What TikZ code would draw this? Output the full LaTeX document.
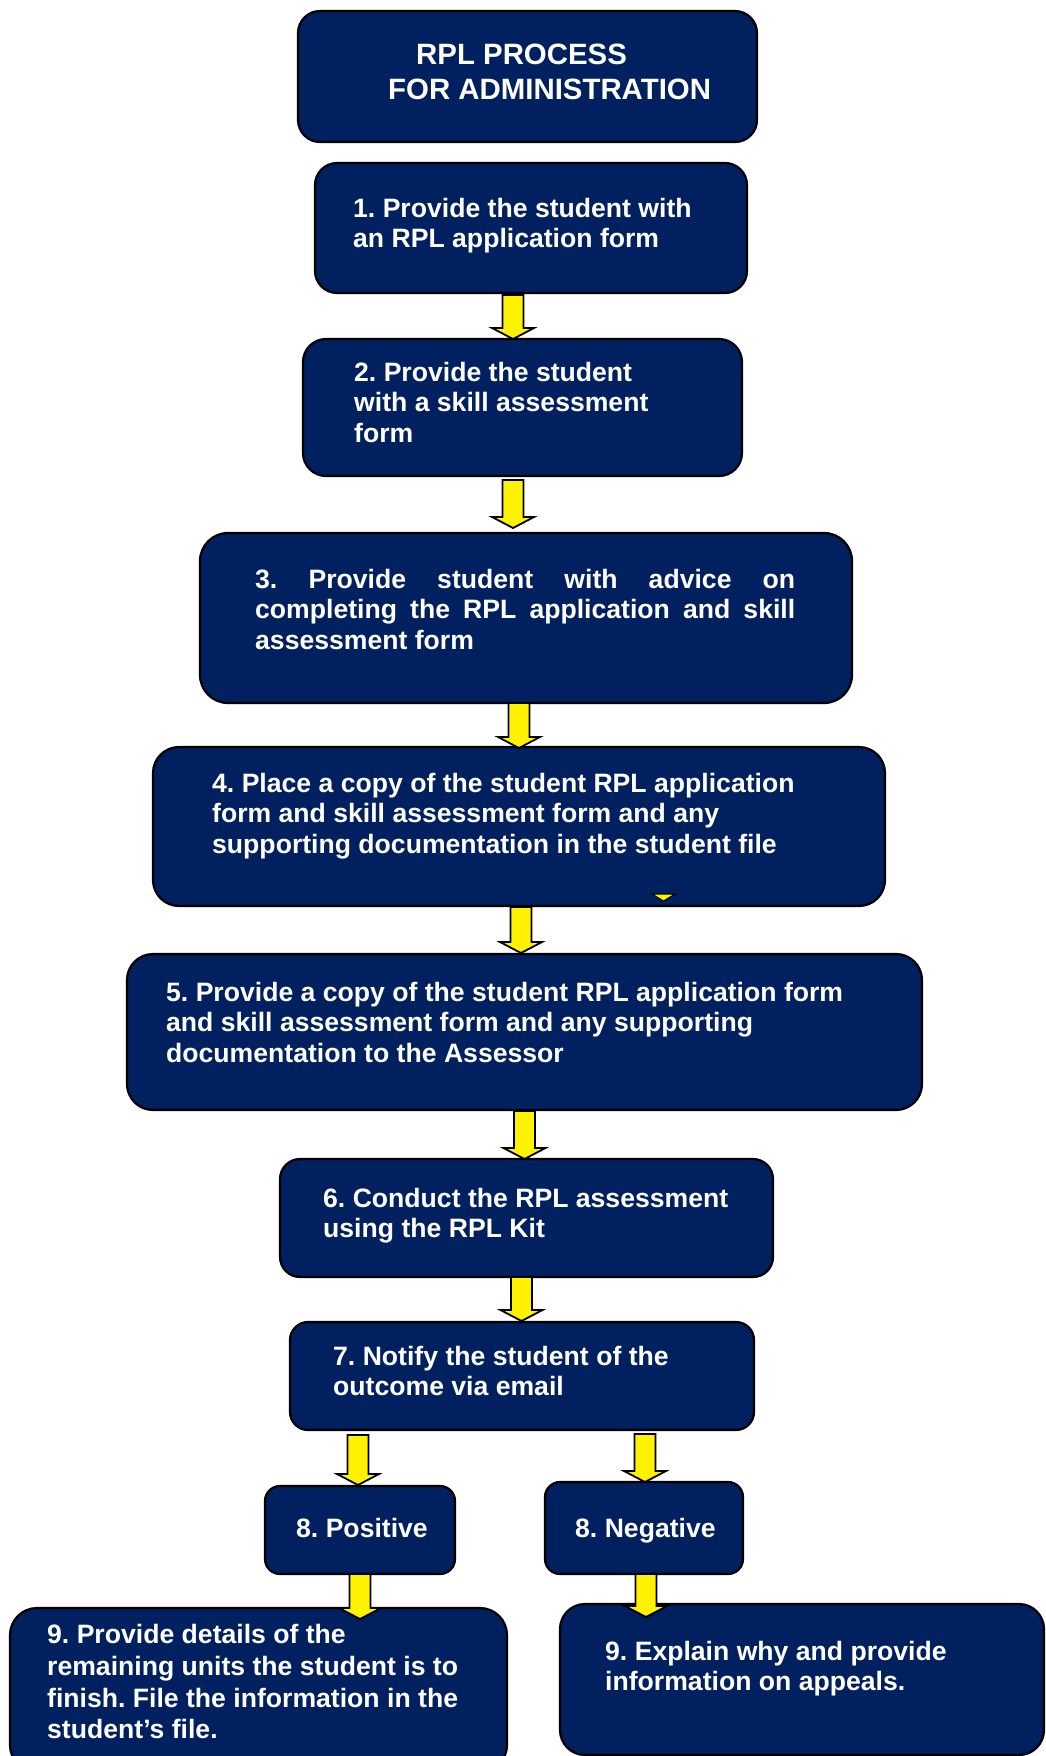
\documentclass[tikz,border=0pt]{standalone}
\usepackage{fontspec}
\setmainfont{Liberation Sans}
\usepackage{tikz}
\usetikzlibrary{calc}

\definecolor{boxnavy}{HTML}{002060}
\frenchspacing

\begin{document}
\begin{tikzpicture}[x=1pt,y=-1pt,
  stepbox/.style={shape=rectangle,draw=black,line width=2.2pt,fill=boxnavy,
    rounded corners=20pt,inner sep=0pt,outer sep=0pt},
  steptext/.style={anchor=north west,inner sep=0pt,align=left,text=white,
    font=\bfseries\fontsize{26.6}{30.5}\selectfont},
  yarrow/.style={draw=black,fill=yellow,line width=1.8pt,line join=miter,
    to path={($(\tikztostart)+(-10.5,0)$) -- ($(\tikztotarget)+(-10.5,-11)$)
      -- ($(\tikztotarget)+(-21,-11)$) -- (\tikztotarget)
      -- ($(\tikztotarget)+(21,-11)$) -- ($(\tikztotarget)+(10.5,-11)$)
      -- ($(\tikztostart)+(10.5,0)$) -- cycle}}]
\useasboundingbox (0,0) rectangle (1046,1756);

% boxes
\node[stepbox,minimum width=459pt,minimum height=131pt,rounded corners=22pt] (b0) at (527.5,76.5) {};
\node[stepbox,minimum width=432pt,minimum height=130pt,rounded corners=22pt] (b1) at (531,228) {};
\node[stepbox,minimum width=439pt,minimum height=137pt,rounded corners=23pt] (b2) at (522.5,407.5) {};
\node[stepbox,minimum width=652pt,minimum height=170pt,rounded corners=28pt] (b3) at (526,618) {};
\node[stepbox,minimum width=732pt,minimum height=159pt,rounded corners=26pt] (b4) at (519,826.5) {};
\node[stepbox,minimum width=795pt,minimum height=156pt,rounded corners=26pt] (b5) at (524.5,1032) {};
\node[stepbox,minimum width=493pt,minimum height=118pt,rounded corners=20pt] (b6) at (526.5,1218) {};
\node[stepbox,minimum width=464pt,minimum height=108pt,rounded corners=18pt] (b7) at (522,1376) {};
\node[stepbox,minimum width=190pt,minimum height=88pt,rounded corners=15pt] (b8p) at (360,1530) {};
\node[stepbox,minimum width=198pt,minimum height=92pt,rounded corners=15pt] (b8n) at (644,1528) {};
\node[stepbox,minimum width=497pt,minimum height=164pt,rounded corners=27pt] (b9l) at (258.5,1690) {};
\node[stepbox,minimum width=484pt,minimum height=151pt,rounded corners=25pt] (b9r) at (802,1679.5) {};

% stray tip on box 4
\draw[fill=yellow,line width=1pt] (652,894) -- (675,894) -- (663.5,901) -- cycle;

% texts
\node[steptext,font=\bfseries\fontsize{29.4}{35}\selectfont] (t0) at (388,43.5) {\hspace*{28pt}RPL PROCESS\\FOR ADMINISTRATION};
\node[steptext] (t1) at (353,198) {1. Provide the student with\\an RPL application form};
\node[steptext] (t2) at (354,362) {2. Provide the student\\with a skill assessment\\form};
\node[steptext] (t3) at (255,569) {\makebox[540pt][s]{3. Provide student with advice on}\\
  \makebox[540pt][s]{completing the RPL application and skill}\\assessment form};
\node[steptext] (t4) at (212,773) {4. Place a copy of the student RPL application\\form and skill assessment form and any\\supporting documentation in the student file};
\node[steptext] (t5) at (166,982) {5. Provide a copy of the student RPL application form\\and skill assessment form and any supporting\\documentation to the Assessor};
\node[steptext] (t6) at (323,1188) {6. Conduct the RPL assessment\\using the RPL Kit};
\node[steptext] (t7) at (333,1346) {7. Notify the student of the\\outcome via email};
\node[steptext] (t8p) at (296,1518) {8. Positive};
\node[steptext] (t8n) at (575,1518) {8. Negative};
\node[steptext,font=\bfseries\fontsize{26.6}{31.8}\selectfont] (t9l) at (47,1624) {9. Provide details of the\\remaining units the student is to\\finish. File the information in the\\student’s file.};
\node[steptext] (t9r) at (605,1641) {9. Explain why and provide\\information on appeals.};

% arrows
\draw[yarrow] ([xshift=-18pt,yshift=-2pt]b1.south) to ([xshift=-9.5pt]b2.north);
\draw[yarrow] ([xshift=-9.5pt,yshift=-4pt]b2.south) to ([xshift=-13pt,yshift=5pt]b3.north);
\draw[yarrow] ([xshift=-7pt]b3.south) to ([yshift=-1pt]b4.north);
\draw[yarrow] ([xshift=2pt,yshift=-1pt]b4.south) to ([xshift=-3.5pt,yshift=1pt]b5.north);
\draw[yarrow] ([yshift=-1pt]b5.south) to ([xshift=-2pt]b6.north);
\draw[yarrow] ([xshift=-5pt]b6.south) to ([xshift=-0.5pt,yshift=1pt]b7.north);
\draw[yarrow] ([xshift=-164pt,yshift=-5pt]b7.south) to ([xshift=-2pt,yshift=1pt]b8p.north);
\draw[yarrow] ([xshift=123pt,yshift=-4pt]b7.south) to ([xshift=1pt]b8n.north);
\draw[yarrow] (b8p.south) to ([xshift=101.5pt,yshift=-11pt]b9l.north);
\draw[yarrow] ([xshift=2pt]b8n.south) to ([xshift=-156pt,yshift=-13pt]b9r.north);
\end{tikzpicture}
\end{document}
